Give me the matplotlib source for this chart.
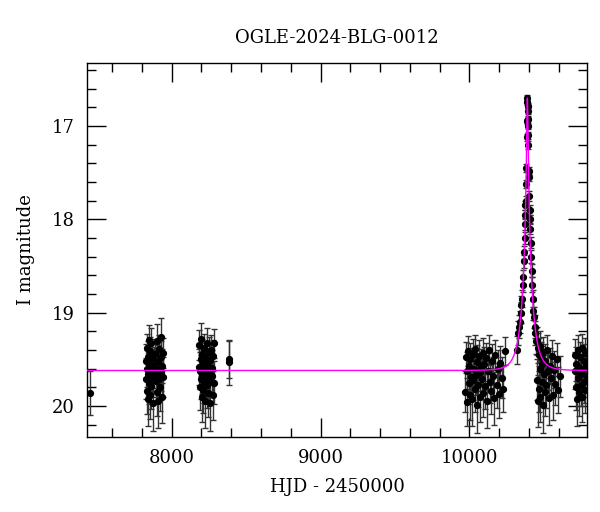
import numpy as np
import matplotlib
matplotlib.use('Agg')
import matplotlib.pyplot as plt
from matplotlib.ticker import MultipleLocator

plt.rcParams['font.family'] = ['DejaVu Serif']

title = 'OGLE-2024-BLG-0012'

# single early point and the 2017 / 2018 seasons
t_early = [7452]
m_early = [19.86]
e_early = [0.24]

t_2017 = [7828, 7831, 7833, 7835, 7838, 7840, 7842, 7844, 7846, 7848, 7850, 7852, 7854, 7856,
          7858, 7860, 7862, 7865, 7868, 7871, 7874, 7877, 7880, 7890, 7893, 7896, 7899, 7902,
          7905, 7908, 7911, 7914, 7917, 7920, 7923, 7926, 7929, 7932, 7935, 7938, 7941, 7944]
m_2017 = [19.52, 19.71, 19.38, 19.84, 19.60, 19.47, 19.93, 19.66, 19.29, 19.75, 19.55, 19.62,
          19.41, 19.88, 19.70, 19.58, 19.33, 19.79, 19.64, 19.49, 19.97, 19.68, 19.56, 19.44,
          19.73, 19.61, 19.30, 19.85, 19.66, 19.52, 19.95, 19.39, 19.71, 19.59, 19.80, 19.47,
          19.64, 19.26, 19.90, 19.57, 19.69, 19.43]
e_2017 = [0.18, 0.22, 0.15, 0.25, 0.20, 0.17, 0.28, 0.19, 0.16, 0.23, 0.18, 0.21, 0.15, 0.26,
          0.20, 0.19, 0.17, 0.24, 0.21, 0.18, 0.30, 0.22, 0.19, 0.16, 0.23, 0.20, 0.18, 0.26,
          0.21, 0.17, 0.29, 0.15, 0.22, 0.19, 0.25, 0.17, 0.20, 0.20, 0.28, 0.18, 0.21, 0.16]

t_2018 = [8184, 8187, 8190, 8192, 8195, 8197, 8200, 8202, 8205, 8207, 8210, 8212, 8215, 8218,
          8221, 8224, 8227, 8230, 8233, 8236, 8239, 8242, 8245, 8248, 8251, 8254, 8257, 8260,
          8264, 8268, 8272, 8276, 8280, 8284, 8288]
m_2018 = [19.58, 19.35, 19.80, 19.62, 19.28, 19.71, 19.50, 19.90, 19.44, 19.66, 19.55, 19.83,
          19.38, 19.74, 19.60, 19.47, 19.95, 19.53, 19.69, 19.32, 19.78, 19.57, 19.86, 19.42,
          19.64, 19.73, 19.51, 19.97, 19.40, 19.68, 19.59, 19.88, 19.46, 19.75, 19.33]
e_2018 = [0.19, 0.16, 0.24, 0.20, 0.17, 0.22, 0.18, 0.27, 0.16, 0.21, 0.19, 0.25, 0.15, 0.23,
          0.20, 0.17, 0.29, 0.18, 0.21, 0.16, 0.24, 0.19, 0.26, 0.16, 0.20, 0.23, 0.18, 0.30,
          0.16, 0.21, 0.19, 0.27, 0.17, 0.23, 0.16]

t_late18 = [8385, 8388]
m_late18 = [19.50, 19.53]
e_late18 = [0.20, 0.24]

# 2023 season
t_2023 = [9972, 9977, 9981, 9985, 9990, 9994, 9998, 10003, 10007, 10012, 10016, 10021, 10025,
          10030, 10034, 10039, 10043, 10048, 10053, 10058, 10063, 10068, 10073, 10078, 10083,
          10088, 10094, 10100, 10106, 10112, 10118, 10124, 10130, 10137, 10144, 10151, 10158,
          10166, 10174, 10182, 10190, 10199, 10208, 10218, 10228, 10238]
m_2023 = [19.85, 19.48, 19.96, 19.62, 19.41, 19.75, 19.57, 19.88, 19.50, 19.69, 19.93, 19.44,
          19.72, 19.60, 19.82, 19.39, 19.67, 19.99, 19.53, 19.77, 19.46, 19.64, 19.90, 19.58,
          19.71, 19.43, 19.86, 19.55, 19.79, 19.49, 19.95, 19.63, 19.40, 19.74, 19.84, 19.52,
          19.68, 19.92, 19.45, 19.78, 19.60, 19.87, 19.54, 19.70, 19.82, 19.41]
e_2023 = [0.22, 0.17, 0.26, 0.20, 0.16, 0.23, 0.19, 0.27, 0.17, 0.21, 0.28, 0.16, 0.22, 0.20,
          0.25, 0.15, 0.21, 0.30, 0.18, 0.24, 0.17, 0.20, 0.27, 0.19, 0.22, 0.16, 0.26, 0.18,
          0.24, 0.17, 0.29, 0.20, 0.16, 0.23, 0.25, 0.18, 0.21, 0.28, 0.16, 0.24, 0.20, 0.26,
          0.18, 0.22, 0.25, 0.15]

# 2024 season: the event
t_event = [10318, 10326, 10333, 10338, 10344, 10349, 10353, 10357, 10361, 10364, 10367, 10370,
           10372, 10374, 10376, 10378, 10380, 10382, 10384, 10386, 10388, 10389, 10390, 10391,
           10392, 10393, 10394, 10396, 10398, 10400, 10402, 10404, 10406, 10408, 10411, 10414,
           10417, 10420, 10424, 10428, 10432, 10437, 10442, 10447]
m_event = [19.40, 19.22, 19.15, 19.10, 19.00, 18.92, 18.85, 18.70, 18.62, 18.45, 18.35, 18.20,
           18.05, 17.95, 17.85, 17.80, 17.62, 17.45, 17.12, 16.95, 16.74, 16.70, 16.78, 16.84,
           16.92, 17.00, 17.10, 17.20, 17.48, 17.55, 17.75, 17.90, 18.00, 18.10, 18.25, 18.40,
           18.55, 18.70, 18.85, 18.98, 19.05, 19.15, 19.22, 19.30]
e_event = [0.15, 0.13, 0.12, 0.12, 0.11, 0.10, 0.09, 0.08, 0.08, 0.07, 0.07, 0.06,
           0.06, 0.05, 0.05, 0.05, 0.04, 0.04, 0.04, 0.03, 0.03, 0.03, 0.03, 0.03,
           0.03, 0.03, 0.04, 0.04, 0.04, 0.04, 0.05, 0.05, 0.05, 0.06, 0.06, 0.07,
           0.07, 0.08, 0.09, 0.10, 0.11, 0.12, 0.13, 0.14]

t_post = [10452, 10456, 10459, 10462, 10465, 10468, 10471, 10474, 10477, 10480, 10484, 10488,
          10492, 10496, 10500, 10505, 10510, 10515, 10520, 10526, 10532, 10538, 10545, 10552,
          10560, 10568, 10576, 10585, 10595, 10608]
m_post = [19.30, 19.72, 19.38, 19.95, 19.45, 19.82, 19.36, 19.60, 19.90, 19.48, 19.74, 19.55,
          19.99, 19.42, 19.66, 19.85, 19.52, 19.78, 19.40, 19.63, 19.92, 19.57, 19.70, 19.46,
          19.88, 19.61, 19.76, 19.50, 19.83, 19.68]
e_post = [0.15, 0.22, 0.16, 0.28, 0.18, 0.25, 0.16, 0.20, 0.27, 0.17, 0.23, 0.19, 0.30, 0.16,
          0.21, 0.26, 0.18, 0.24, 0.16, 0.20, 0.28, 0.19, 0.22, 0.17, 0.27, 0.20, 0.23, 0.18,
          0.25, 0.22]

# 2025 season
t_2025 = [10706, 10710, 10714, 10718, 10722, 10726, 10730, 10734, 10738, 10742, 10746, 10750,
          10754, 10758, 10762, 10766, 10770, 10774, 10778, 10782, 10786]
m_2025 = [19.62, 19.45, 19.80, 19.55, 19.93, 19.40, 19.70, 19.58, 19.85, 19.48, 19.66, 19.77,
          19.38, 19.90, 19.60, 19.52, 19.74, 19.43, 19.83, 19.57, 19.68]
e_2025 = [0.20, 0.17, 0.24, 0.18, 0.28, 0.16, 0.22, 0.19, 0.26, 0.17, 0.21, 0.23, 0.15, 0.27,
          0.20, 0.18, 0.23, 0.16, 0.25, 0.19, 0.22]

# point-lens model fit
t0 = 10389.0
tE = 65.0
u0 = 0.068
I0 = 19.62
fs = 1.0

t = np.concatenate([t_early, t_2017, t_2018, t_late18, t_2023, t_event, t_post, t_2025])
m = np.concatenate([m_early, m_2017, m_2018, m_late18, m_2023, m_event, m_post, m_2025])
e = np.concatenate([e_early, e_2017, e_2018, e_late18, e_2023, e_event, e_post, e_2025])

xmin, xmax = 7434, 10790
ymin, ymax = 20.33, 16.32

fig = plt.figure(figsize=(6, 5.12), dpi=100)
ax = fig.add_axes([0.1455, 0.147, 0.833, 0.7305])

ax.errorbar(t, m, yerr=e, fmt='none', ecolor='0.2', elinewidth=1.0, capsize=2.2, capthick=1.0, zorder=2)
ax.plot(t, m, 'o', color='k', ms=4.2, zorder=3)

tt = np.linspace(xmin, xmax, 4000)
u = np.sqrt(u0**2 + ((tt - t0) / tE)**2)
A = (u**2 + 2) / (u * np.sqrt(u**2 + 4))
ax.plot(tt, I0 - 2.5 * np.log10(fs * (A - 1) + 1), color='#ff00ff', lw=1.0, zorder=4)

ax.set_xlim(xmin, xmax)
ax.set_ylim(ymin, ymax)
ax.xaxis.set_major_locator(MultipleLocator(1000))
ax.xaxis.set_minor_locator(MultipleLocator(200))
ax.yaxis.set_major_locator(MultipleLocator(1))
ax.yaxis.set_minor_locator(MultipleLocator(0.2))
ax.tick_params(which='both', direction='in', top=True, right=True, width=1.0, labelsize=13)
ax.tick_params(which='major', length=13.5, pad=9)
ax.tick_params(which='minor', length=6.5)
for s in ax.spines.values():
    s.set_linewidth(1.0)

ax.set_xlabel('HJD - 2450000', fontsize=13, labelpad=8)
ax.set_ylabel('I magnitude', fontsize=13, labelpad=12)
ax.set_title(title, fontsize=13, pad=14)

fig.savefig('out.png', dpi=100)
